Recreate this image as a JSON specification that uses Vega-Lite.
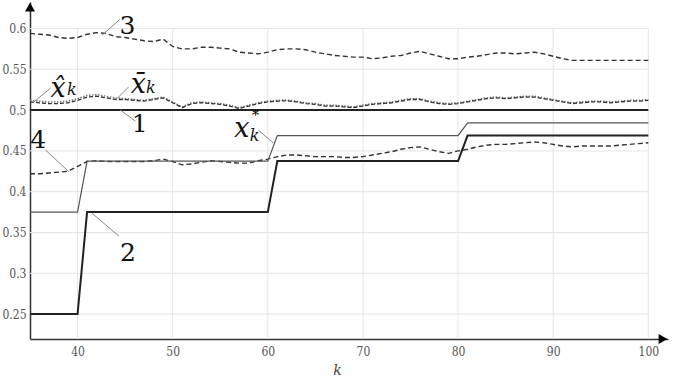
{
"$schema":"https://vega.github.io/schema/vega-lite/v6.json",
"width":638,"height":337,"autosize":"none",
"padding":{"left":30,"top":2,"right":6,"bottom":39},
"background":"white",
"config":{"view":{"stroke":null},"font":"DejaVu Serif"},
"datasets":{
"s3":[{"k":35,"v":0.594},{"k":36,"v":0.593},{"k":37,"v":0.592},{"k":38,"v":0.589},{"k":39,"v":0.588},{"k":40,"v":0.589},{"k":41,"v":0.593},{"k":42,"v":0.595},{"k":43,"v":0.594},{"k":44,"v":0.59},{"k":45,"v":0.589},{"k":46,"v":0.587},{"k":47,"v":0.585},{"k":48,"v":0.584},{"k":49,"v":0.587},{"k":50,"v":0.578},{"k":51,"v":0.575},{"k":52,"v":0.575},{"k":53,"v":0.577},{"k":54,"v":0.577},{"k":55,"v":0.576},{"k":56,"v":0.575},{"k":57,"v":0.571},{"k":58,"v":0.57},{"k":59,"v":0.569},{"k":60,"v":0.571},{"k":61,"v":0.574},{"k":62,"v":0.575},{"k":63,"v":0.575},{"k":64,"v":0.574},{"k":65,"v":0.571},{"k":66,"v":0.569},{"k":67,"v":0.567},{"k":68,"v":0.566},{"k":69,"v":0.565},{"k":70,"v":0.565},{"k":71,"v":0.563},{"k":72,"v":0.564},{"k":73,"v":0.566},{"k":74,"v":0.567},{"k":75,"v":0.57},{"k":76,"v":0.572},{"k":77,"v":0.569},{"k":78,"v":0.566},{"k":79,"v":0.563},{"k":80,"v":0.563},{"k":81,"v":0.565},{"k":82,"v":0.566},{"k":83,"v":0.568},{"k":84,"v":0.57},{"k":85,"v":0.57},{"k":86,"v":0.569},{"k":87,"v":0.57},{"k":88,"v":0.571},{"k":89,"v":0.569},{"k":90,"v":0.566},{"k":91,"v":0.563},{"k":92,"v":0.561},{"k":93,"v":0.561},{"k":94,"v":0.561},{"k":95,"v":0.561},{"k":96,"v":0.561},{"k":97,"v":0.561},{"k":98,"v":0.561},{"k":99,"v":0.561},{"k":100,"v":0.561}],
"s4":[{"k":35,"v":0.422},{"k":36,"v":0.422},{"k":37,"v":0.423},{"k":38,"v":0.424},{"k":39,"v":0.425},{"k":40,"v":0.431},{"k":41,"v":0.437},{"k":42,"v":0.438},{"k":43,"v":0.437},{"k":44,"v":0.437},{"k":45,"v":0.437},{"k":46,"v":0.437},{"k":47,"v":0.437},{"k":48,"v":0.438},{"k":49,"v":0.44},{"k":50,"v":0.437},{"k":51,"v":0.433},{"k":52,"v":0.434},{"k":53,"v":0.436},{"k":54,"v":0.438},{"k":55,"v":0.437},{"k":56,"v":0.436},{"k":57,"v":0.435},{"k":58,"v":0.435},{"k":59,"v":0.438},{"k":60,"v":0.44},{"k":61,"v":0.443},{"k":62,"v":0.445},{"k":63,"v":0.445},{"k":64,"v":0.444},{"k":65,"v":0.443},{"k":66,"v":0.443},{"k":67,"v":0.443},{"k":68,"v":0.442},{"k":69,"v":0.442},{"k":70,"v":0.443},{"k":71,"v":0.445},{"k":72,"v":0.447},{"k":73,"v":0.449},{"k":74,"v":0.452},{"k":75,"v":0.454},{"k":76,"v":0.455},{"k":77,"v":0.452},{"k":78,"v":0.449},{"k":79,"v":0.447},{"k":80,"v":0.45},{"k":81,"v":0.452},{"k":82,"v":0.455},{"k":83,"v":0.457},{"k":84,"v":0.458},{"k":85,"v":0.458},{"k":86,"v":0.459},{"k":87,"v":0.46},{"k":88,"v":0.461},{"k":89,"v":0.46},{"k":90,"v":0.458},{"k":91,"v":0.456},{"k":92,"v":0.455},{"k":93,"v":0.456},{"k":94,"v":0.456},{"k":95,"v":0.456},{"k":96,"v":0.456},{"k":97,"v":0.457},{"k":98,"v":0.458},{"k":99,"v":0.459},{"k":100,"v":0.46}],
"sh":[{"k":35,"v":0.51,"b":0.512},{"k":36,"v":0.509,"b":0.511},{"k":37,"v":0.508,"b":0.51},{"k":38,"v":0.508,"b":0.51},{"k":39,"v":0.509,"b":0.511},{"k":40,"v":0.512,"b":0.514},{"k":41,"v":0.516,"b":0.518},{"k":42,"v":0.517,"b":0.519},{"k":43,"v":0.515,"b":0.517},{"k":44,"v":0.513,"b":0.515},{"k":45,"v":0.513,"b":0.514},{"k":46,"v":0.512,"b":0.513},{"k":47,"v":0.511,"b":0.512},{"k":48,"v":0.513,"b":0.514},{"k":49,"v":0.515,"b":0.516},{"k":50,"v":0.509,"b":0.51},{"k":51,"v":0.503,"b":0.504},{"k":52,"v":0.508,"b":0.509},{"k":53,"v":0.509,"b":0.51},{"k":54,"v":0.508,"b":0.509},{"k":55,"v":0.507,"b":0.508},{"k":56,"v":0.505,"b":0.506},{"k":57,"v":0.502,"b":0.503},{"k":58,"v":0.505,"b":0.506},{"k":59,"v":0.508,"b":0.509},{"k":60,"v":0.51,"b":0.511},{"k":61,"v":0.511,"b":0.512},{"k":62,"v":0.5115,"b":0.5125},{"k":63,"v":0.51,"b":0.511},{"k":64,"v":0.508,"b":0.509},{"k":65,"v":0.507,"b":0.508},{"k":66,"v":0.505,"b":0.506},{"k":67,"v":0.505,"b":0.506},{"k":68,"v":0.504,"b":0.505},{"k":69,"v":0.503,"b":0.504},{"k":70,"v":0.505,"b":0.506},{"k":71,"v":0.507,"b":0.508},{"k":72,"v":0.508,"b":0.509},{"k":73,"v":0.509,"b":0.51},{"k":74,"v":0.511,"b":0.512},{"k":75,"v":0.513,"b":0.514},{"k":76,"v":0.513,"b":0.514},{"k":77,"v":0.51,"b":0.511},{"k":78,"v":0.508,"b":0.509},{"k":79,"v":0.507,"b":0.508},{"k":80,"v":0.508,"b":0.509},{"k":81,"v":0.51,"b":0.511},{"k":82,"v":0.512,"b":0.513},{"k":83,"v":0.514,"b":0.515},{"k":84,"v":0.515,"b":0.516},{"k":85,"v":0.514,"b":0.515},{"k":86,"v":0.515,"b":0.516},{"k":87,"v":0.516,"b":0.517},{"k":88,"v":0.516,"b":0.517},{"k":89,"v":0.514,"b":0.515},{"k":90,"v":0.512,"b":0.513},{"k":91,"v":0.51,"b":0.511},{"k":92,"v":0.508,"b":0.509},{"k":93,"v":0.509,"b":0.51},{"k":94,"v":0.51,"b":0.511},{"k":95,"v":0.51,"b":0.511},{"k":96,"v":0.509,"b":0.51},{"k":97,"v":0.51,"b":0.511},{"k":98,"v":0.511,"b":0.512},{"k":99,"v":0.511,"b":0.512},{"k":100,"v":0.512,"b":0.513}],
"s1":[{"k":35,"v":0.5},{"k":100,"v":0.5}],
"s2":[{"k":35,"v":0.25},{"k":40,"v":0.25},{"k":41,"v":0.375},{"k":60,"v":0.375},{"k":61,"v":0.4375},{"k":80,"v":0.4375},{"k":81,"v":0.46875},{"k":100,"v":0.46875}],
"sx":[{"k":35,"v":0.375},{"k":40,"v":0.375},{"k":41,"v":0.4375},{"k":60,"v":0.4375},{"k":61,"v":0.46875},{"k":80,"v":0.46875},{"k":81,"v":0.484375},{"k":100,"v":0.484375}],
"grid":[{"k":40,"v":0.2195,"k2":40,"v2":0.6},{"k":50,"v":0.2195,"k2":50,"v2":0.6},{"k":60,"v":0.2195,"k2":60,"v2":0.6},{"k":70,"v":0.2195,"k2":70,"v2":0.6},{"k":80,"v":0.2195,"k2":80,"v2":0.6},{"k":90,"v":0.2195,"k2":90,"v2":0.6},{"k":100,"v":0.2195,"k2":100,"v2":0.6},{"k":35,"v":0.25,"k2":100,"v2":0.25},{"k":35,"v":0.3,"k2":100,"v2":0.3},{"k":35,"v":0.35,"k2":100,"v2":0.35},{"k":35,"v":0.4,"k2":100,"v2":0.4},{"k":35,"v":0.45,"k2":100,"v2":0.45},{"k":35,"v":0.5,"k2":100,"v2":0.5},{"k":35,"v":0.55,"k2":100,"v2":0.55},{"k":35,"v":0.6,"k2":100,"v2":0.6}],
"xticks":[{"k":40},{"k":50},{"k":60},{"k":70},{"k":80},{"k":90},{"k":100}],
"leaders":[{"k":44.44,"v":0.6112,"k2":42.59,"v2":0.5919},{"k":44.51,"v":0.5,"k2":46.09,"v2":0.4865},{"k":36.64,"v":0.451,"k2":39.09,"v2":0.4244},{"k":44.34,"v":0.3456,"k2":41.54,"v2":0.3734},{"k":59.01,"v":0.4755,"k2":60.59,"v2":0.4596},{"k":37.16,"v":0.527,"k2":35.38,"v2":0.5098},{"k":45.35,"v":0.5282,"k2":44.2,"v2":0.5147}],
"digits":[{"k":45.25,"v":0.5935,"t":"3"},{"k":46.52,"v":0.473,"t":"1"},{"k":35.85,"v":0.4534,"t":"4"},{"k":45.3,"v":0.315,"t":"2"}],
"xs":[{"k":37.95,"v":0.5165,"t":"x̂"},{"k":46.4,"v":0.5208,"t":"x̄"},{"k":57.27,"v":0.4669,"t":"x"}],
"subs":[{"k":39.4,"v":0.5184,"t":"k"},{"k":47.7,"v":0.5208,"t":"k"},{"k":58.6,"v":0.462,"t":"k"}],
"stars":[{"k":58.7,"v":0.4875,"t":"*"}],
"arrows":[{"k":35,"v":0.6262,"sh":"triangle-up"},{"k":101.54,"v":0.2195,"sh":"triangle-right"}]
},
"encoding":{
"x":{"field":"k","type":"quantitative","scale":{"domain":[35,102.07],"nice":false,"zero":false}},
"y":{"field":"v","type":"quantitative","scale":{"domain":[0.2195,0.6325],"nice":false,"zero":false}}
},
"layer":[
{"data":{"name":"grid"},"mark":{"type":"rule","stroke":"#e4e4e4","strokeWidth":1},
 "encoding":{"x2":{"field":"k2"},"y2":{"field":"v2"},
  "x":{"field":"k","type":"quantitative","axis":{"values":[40,50,60,70,80,90,100],"ticks":false,"grid":false,"title":"k","titleFont":"DejaVu Serif","titleFontStyle":"italic","titleFontWeight":"normal","titleFontSize":14,"titleColor":"#444","titleX":307,"titleY":35,"titleBaseline":"alphabetic","labelFont":"DejaVu Serif Condensed, DejaVu Serif","labelFontSize":12,"labelColor":"#555","labelPadding":7,"domainColor":"#333","domainWidth":1.5}},
  "y":{"field":"v","type":"quantitative","axis":{"values":[0.25,0.3,0.35,0.4,0.45,0.5,0.55,0.6],"format":"~g","ticks":false,"grid":false,"title":null,"labelFont":"DejaVu Serif Condensed, DejaVu Serif","labelFontSize":12,"labelColor":"#555","labelPadding":4,"domainColor":"#333","domainWidth":1.5}}}},
{"data":{"name":"xticks"},"mark":{"type":"rule","stroke":"#555","strokeWidth":1},"encoding":{"y":{"datum":0.2195},"y2":{"datum":0.226}}},
{"data":{"name":"sh"},"mark":{"type":"line","stroke":"#777","strokeWidth":1.5,"strokeDash":[1.5,1.5]},"encoding":{"y":{"field":"b","type":"quantitative"}}},
{"data":{"name":"sh"},"mark":{"type":"line","stroke":"#333","strokeWidth":1.3,"strokeDash":[4,2]},"encoding":{}},
{"data":{"name":"s3"},"mark":{"type":"line","stroke":"#333","strokeWidth":1.4,"strokeDash":[5,3]},"encoding":{}},
{"data":{"name":"s4"},"mark":{"type":"line","stroke":"#333","strokeWidth":1.4,"strokeDash":[5,3]},"encoding":{}},
{"data":{"name":"sx"},"mark":{"type":"line","stroke":"#555","strokeWidth":1.2},"encoding":{}},
{"data":{"name":"s1"},"mark":{"type":"line","stroke":"#222","strokeWidth":2},"encoding":{}},
{"data":{"name":"s2"},"mark":{"type":"line","stroke":"#222","strokeWidth":2},"encoding":{}},
{"data":{"name":"leaders"},"mark":{"type":"rule","stroke":"#888","strokeWidth":1},"encoding":{"x2":{"field":"k2"},"y2":{"field":"v2"}}},
{"data":{"name":"digits"},"mark":{"type":"text","font":"DejaVu Serif","fontSize":25,"fill":"#111","align":"center","baseline":"alphabetic"},"encoding":{"text":{"field":"t"}}},
{"data":{"name":"xs"},"mark":{"type":"text","font":"DejaVu Serif","fontSize":27,"fontStyle":"italic","fill":"#111","align":"center","baseline":"alphabetic"},"encoding":{"text":{"field":"t"}}},
{"data":{"name":"subs"},"mark":{"type":"text","font":"DejaVu Serif","fontSize":16,"fontStyle":"italic","fill":"#111","align":"center","baseline":"alphabetic"},"encoding":{"text":{"field":"t"}}},
{"data":{"name":"stars"},"mark":{"type":"text","font":"DejaVu Serif","fontSize":15,"fill":"#000","align":"center","baseline":"alphabetic"},"encoding":{"text":{"field":"t"}}},
{"data":{"name":"arrows"},"mark":{"type":"point","filled":true,"fill":"#000","opacity":1,"size":100,"strokeWidth":0},"encoding":{"shape":{"field":"sh","type":"nominal","scale":null}}}
]
}
